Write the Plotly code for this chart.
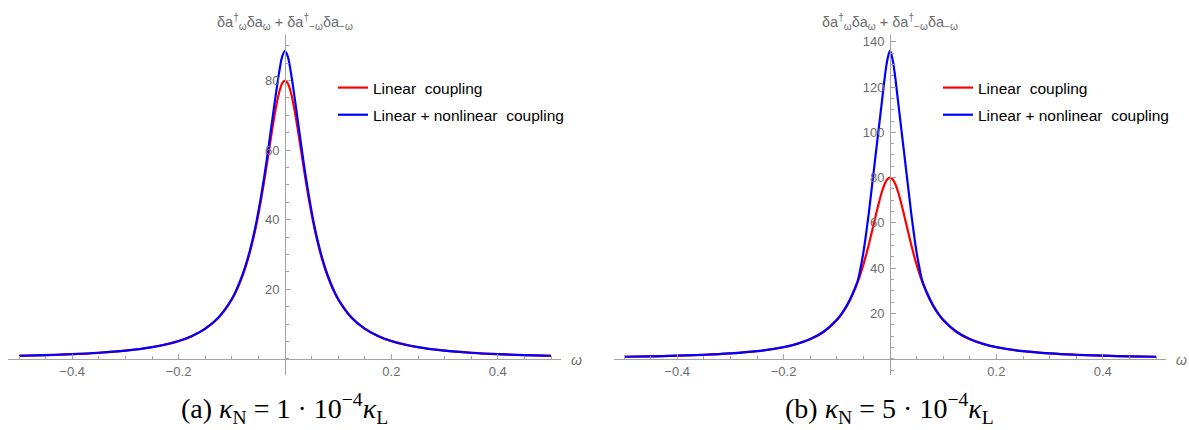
import plotly.graph_objects as go

W, H = 1189, 430

# ---------------- data ----------------
omega = [-0.5, -0.45, -0.4, -0.35, -0.3, -0.25, -0.2, -0.175, -0.15, -0.125,
         -0.1, -0.09, -0.08, -0.07, -0.06, -0.055, -0.05, -0.045, -0.04, -0.035,
         -0.03, -0.025, -0.02, -0.015, -0.01, -0.005, 0.0,
         0.005, 0.01, 0.015, 0.02, 0.025, 0.03, 0.035, 0.04, 0.045, 0.05,
         0.055, 0.06, 0.07, 0.08, 0.09, 0.1, 0.125, 0.15, 0.175, 0.2,
         0.25, 0.3, 0.35, 0.4, 0.45, 0.5]

linear_a = [0.86, 1.05, 1.33, 1.73, 2.33, 3.32, 5.07, 6.49, 8.58, 11.80,
            17.03, 20.02, 23.76, 28.45, 34.31, 37.76, 41.57, 45.74, 50.26, 55.06,
            60.02, 64.98, 69.69, 73.86, 77.15, 79.27, 80.0,
            79.27, 77.15, 73.86, 69.69, 64.98, 60.02, 55.06, 50.26, 45.74, 41.57,
            37.76, 34.31, 28.45, 23.76, 20.02, 17.03, 11.80, 8.58, 6.49, 5.07,
            3.32, 2.33, 1.73, 1.33, 1.05, 0.86]

nonlinear_a = [0.87, 1.06, 1.34, 1.74, 2.35, 3.34, 5.12, 6.56, 8.7, 11.9,
               17.2, 20.3, 24.1, 28.9, 34.9, 38.4, 42.4, 46.7, 51.4, 56.5,
               61.9, 67.5, 73.0, 78.4, 83.3, 87.0, 88.5,
               87.0, 83.3, 78.4, 73.0, 67.5, 61.9, 56.5, 51.4, 46.7, 42.4,
               38.4, 34.9, 28.9, 24.1, 20.3, 17.2, 11.9, 8.7, 6.56, 5.12,
               3.34, 2.35, 1.74, 1.34, 1.06, 0.87]

linear_b = list(linear_a)

nonlinear_b = [0.87, 1.06, 1.34, 1.74, 2.35, 3.34, 5.1, 6.53, 8.65, 11.9,
               17.2, 20.2, 24.0, 28.9, 35.0, 40.5, 47.0, 55.0, 64.0, 74.0,
               84.0, 94.0, 104.0, 114.0, 124.0, 132.0, 136.0,
               132.0, 124.0, 114.0, 104.0, 94.0, 84.0, 74.0, 64.0, 55.0, 47.0,
               40.5, 35.0, 28.9, 24.0, 20.2, 17.2, 11.9, 8.65, 6.53, 5.1,
               3.34, 2.35, 1.74, 1.34, 1.06, 0.87]

x_tickvals = [-0.4, -0.2, 0.2, 0.4]
x_ticktext = ["−0.4", "−0.2", "0.2", "0.4"]
y_tickvals_a = [20, 40, 60, 80]
y_tickvals_b = [20, 40, 60, 80, 100, 120, 140]

series_names = ["Linear  coupling", "Linear + nonlinear  coupling"]
captions = ["(a) <i>κ</i><sub>N</sub> = 1 · 10<sup>−4</sup><i>κ</i><sub>L</sub>",
            "(b) <i>κ</i><sub>N</sub> = 5 · 10<sup>−4</sup><i>κ</i><sub>L</sub>"]
ylabel = "δa<sup>†</sup><sub>ω</sub>δa<sub>ω</sub> + δa<sup>†</sup><sub>−ω</sub>δa<sub>−ω</sub>"

# ---------------- layout geometry (pixels) ----------------
PXU = 532.0                      # pixels per omega unit
panels = [
    dict(x0=285.0, xl=8.3, xr=560.7, yr=[-4.66, 93.1], leg=333),
    dict(x0=890.0, xl=614.0, xr=1165.7, yr=[-7.2, 143.0], leg=938),
]
YTOP, YBOT = 35.0, 375.0

AX = "#a3a3a3"
TXT = "#6c6c6c"
RED = "#ff0000"
BLUE = "#0000ff"

fig = go.Figure()

data_sets = [(linear_a, nonlinear_a), (linear_b, nonlinear_b)]
for i, (lin, nonlin) in enumerate(data_sets):
    xa = "x" if i == 0 else "x2"
    ya = "y" if i == 0 else "y2"
    lg = "legend" if i == 0 else "legend2"
    fig.add_trace(go.Scatter(x=omega, y=lin, mode="lines", name=series_names[0],
                             line=dict(color=RED, width=2.2, shape="spline"),
                             xaxis=xa, yaxis=ya, legend=lg, legendgroup=f"r{i}"))
    fig.add_trace(go.Scatter(x=omega, y=nonlin, mode="lines", name=series_names[1],
                             line=dict(color=BLUE, width=2.2, shape="spline"),
                             xaxis=xa, yaxis=ya, legend=lg, legendgroup=f"b{i}"))

ydom = [(H - YBOT) / H, (H - YTOP) / H]
layout = dict(width=W, height=H, margin=dict(l=0, r=0, t=0, b=0),
              paper_bgcolor="white", plot_bgcolor="white")

tickfont = dict(family="Liberation Sans, Arial, sans-serif", size=13, color=TXT)
legfont = dict(family="Liberation Sans, Arial, sans-serif", size=15.5, color="black")
annotations = []
for i, p in enumerate(panels):
    xr = [(p["xl"] - p["x0"]) / PXU, (p["xr"] - p["x0"]) / PXU]
    ymin, ymax = p["yr"]
    base_frac = ydom[0] + (0 - ymin) / (ymax - ymin) * (ydom[1] - ydom[0])
    sfx = "" if i == 0 else "2"
    yt = y_tickvals_a if i == 0 else y_tickvals_b
    layout["xaxis" + sfx] = dict(
        domain=[p["xl"] / W, p["xr"] / W], range=xr, anchor="free", position=base_frac,
        showline=True, linecolor=AX, linewidth=1, showgrid=False, zeroline=False,
        tickmode="array", tickvals=x_tickvals, ticktext=x_ticktext,
        ticks="inside", ticklen=5, tickcolor=AX, tickwidth=1, tickfont=tickfont,
        ticklabelstandoff=1,
        minor=dict(ticks="inside", ticklen=3, tickcolor=AX, tickwidth=1, dtick=0.05, tick0=0),
    )
    layout["yaxis" + sfx] = dict(
        domain=ydom, range=[ymin, ymax], anchor="free", position=p["x0"] / W,
        showline=True, linecolor=AX, linewidth=1, showgrid=False, zeroline=False,
        tickmode="array", tickvals=yt,
        ticks="inside", ticklen=5, tickcolor=AX, tickwidth=1, tickfont=tickfont,
        ticklabelstandoff=3,
        minor=dict(ticks="inside", ticklen=3, tickcolor=AX, tickwidth=1, dtick=5, tick0=0),
    )
    annotations.append(dict(text=ylabel, x=p["x0"] / W, y=(H - 21.7) / H, xref="paper", yref="paper",
                            xanchor="center", yanchor="middle", showarrow=False,
                            font=dict(family="Liberation Sans, Arial, sans-serif", size=14.5, color=TXT)))
    annotations.append(dict(text="<i>ω</i>", x=(p["xr"] + 16) / W, y=(H - 360) / H,
                            xref="paper", yref="paper", xanchor="center", yanchor="middle",
                            showarrow=False,
                            font=dict(family="Liberation Sans, Arial, sans-serif", size=14, color=TXT)))
    annotations.append(dict(text=captions[i], x=(p["x0"] - 1) / W, y=(H - 408) / H,
                            xref="paper", yref="paper", xanchor="center", yanchor="middle",
                            showarrow=False,
                            font=dict(family="Liberation Serif, serif", size=28, color="black")))
    layout["legend" + sfx] = dict(x=p["leg"] / W, xanchor="left", y=(H - 71) / H, yanchor="top",
                                  font=legfont, bgcolor="rgba(0,0,0,0)", tracegroupgap=4,
                                  itemwidth=30)

layout["annotations"] = annotations
fig.update_layout(**layout)

fig.write_html("out.html")
